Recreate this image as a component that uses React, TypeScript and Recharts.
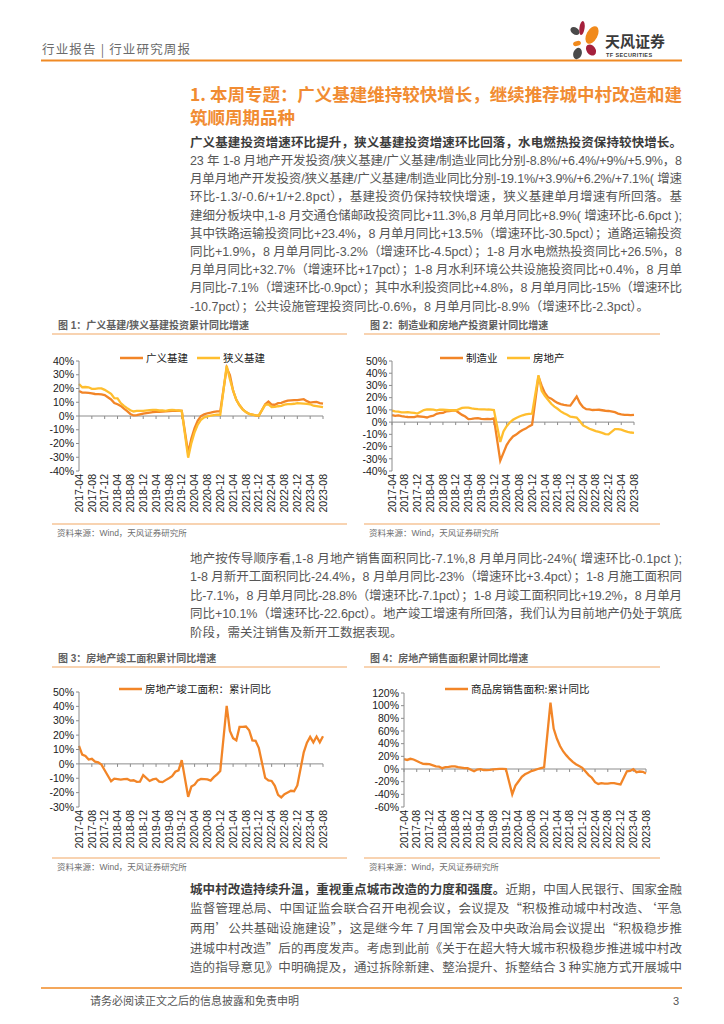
import React from "react"
import { Line, LineChart, ReferenceLine, XAxis, YAxis } from "recharts"

// months 2017-04 .. 2023-08 (January has no release, kept as null)
const MONTHS: string[] = []
for (let y = 2017; y <= 2023; y++) {
  for (let m = 1; m <= 12; m++) {
    if (y === 2017 && m < 4) continue
    if (y === 2023 && m > 8) break
    MONTHS.push(`${y}-${String(m).padStart(2, "0")}`)
  }
}
const LABEL_MONTHS = MONTHS.filter((_, i) => i % 4 === 0)

// 图1
const broadInfra = [
  18.2, 17.0, 17.0, 16.8, 16.4, 16.0, 15.9, 15.8, 15.2,
  null, 12.0, 9.5, 8.5, 7.3, 5.3, 3.5, 1.5, 0.4, 0.6, 1.2, 1.8,
  null, 2.5, 2.8, 3.0, 3.0, 3.2, 3.4, 3.5, 3.7, 3.8, 3.9, 3.8,
  null, -26.9, -16.4, -8.8, -3.3, -0.1, 1.2, 2.0, 2.4, 3.0, 3.3, 3.4,
  null, 35.0, 29.7, 18.4, 11.8, 7.8, 4.9, 2.9, 1.5, 1.0, 0.5, 0.2,
  null, 8.6, 10.5, 8.3, 8.2, 9.3, 9.6, 10.4, 11.2, 11.4, 11.6, 11.5,
  null, 12.2, 10.8, 9.8, 10.1, 10.2, 9.4, 9.0,
]
const narrowInfra = [
  23.3, 20.9, 21.1, 20.9, 19.8, 19.8, 20.1, 20.1, 19.0,
  null, 16.1, 13.0, 12.9, 9.4, 7.3, 5.7, 4.2, 3.3, 3.7, 3.7, 3.8,
  null, 4.3, 4.4, 4.4, 4.0, 4.1, 3.8, 4.2, 4.5, 4.2, 4.0, 3.8,
  null, -30.3, -19.7, -11.8, -6.3, -2.7, -1.0, -0.3, 0.2, 0.7, 1.0, 0.9,
  null, 36.6, 26.8, 18.4, 11.8, 7.8, 4.6, 2.9, 1.5, 1.0, 0.5, 0.4,
  null, 8.1, 8.5, 6.5, 6.7, 7.1, 7.4, 8.3, 8.6, 8.7, 8.9, 9.4,
  null, 9.0, 8.8, 8.5, 7.5, 7.2, 6.8, 6.4,
]

// 图2
const manufacturing = [
  5.8, 5.1, 5.5, 4.9, 4.5, 4.2, 4.1, 4.1, 4.8,
  null, 4.3, 3.8, 4.8, 5.2, 6.8, 7.3, 7.5, 8.7, 9.1, 9.5, 9.5,
  null, 5.9, 4.6, 2.5, 2.7, 3.0, 3.3, 2.6, 2.5, 2.6, 2.5, 3.1,
  null, -31.5, -25.2, -18.8, -14.8, -11.7, -10.2, -8.1, -6.5, -5.3, -3.5, -2.2,
  null, 37.3, 29.8, 23.8, 20.4, 19.2, 17.3, 15.7, 14.8, 14.2, 13.7, 13.5,
  null, 20.9, 15.6, 12.2, 10.6, 10.4, 9.9, 10.0, 10.1, 9.7, 9.3, 9.1,
  null, 8.1, 7.0, 6.4, 6.0, 6.0, 5.7, 5.9,
]
const realEstate = [
  9.3, 8.8, 8.5, 7.9, 7.9, 8.1, 7.8, 7.5, 7.0,
  null, 9.9, 10.4, 10.3, 10.2, 9.7, 10.2, 10.1, 9.9, 9.7, 9.7, 9.5,
  null, 11.6, 11.8, 11.9, 11.2, 10.9, 10.6, 10.5, 10.5, 10.3, 10.2, 9.9,
  null, -16.3, -7.7, -3.3, -0.3, 1.9, 3.4, 4.6, 5.6, 6.3, 6.8, 7.0,
  null, 38.3, 25.6, 21.6, 18.3, 15.0, 12.7, 10.9, 8.8, 7.2, 6.0, 4.4,
  null, 3.7, 0.7, -2.7, -4.0, -5.4, -6.4, -7.4, -8.0, -8.8, -9.8, -10.0,
  null, -5.7, -5.8, -6.2, -7.2, -7.9, -8.5, -8.8,
]

// 图3
const completedArea = [
  12.5, 6.5, 5.5, 3.0, 3.5, 1.5, 1.0, -0.5, -4.4,
  null, -12.1, -10.3, -10.6, -11.0, -10.6, -10.5, -11.6, -11.4, -12.5, -12.3, -7.8,
  null, -11.9, -10.8, -10.3, -12.4, -12.7, -11.3, -10.0, -8.6, -5.5, -4.5, 2.6,
  null, -22.9, -15.8, -14.5, -11.5, -10.5, -10.6, -10.8, -11.6, -9.2, -7.3, -4.9,
  null, 40.4, 22.9, 17.9, 16.4, 25.7, 25.7, 26.0, 23.4, 16.3, 16.0, 11.2,
  null, -9.8, -11.5, -11.9, -15.3, -21.5, -23.3, -21.1, -19.9, -18.7, -19.0, -15.0,
  null, 8.0, 14.7, 18.8, 15.0, 19.0, 15.0, 19.2,
]

// 图4
const salesArea = [
  15.7, 14.3, 16.1, 15.0, 12.7, 10.3, 8.2, 7.9, 7.7,
  null, 4.1, 3.6, 1.3, 2.9, 3.3, 4.2, 4.0, 2.9, 2.2, 1.4, 1.3,
  null, -3.6, -0.9, -0.3, -1.6, -1.8, -1.3, -0.6, -0.1, 0.1, 0.2, -0.1,
  null, -39.9, -26.3, -19.3, -12.3, -8.4, -5.8, -3.3, -1.8, 0.0, 1.3, 2.6,
  null, 104.9, 63.8, 48.1, 36.3, 27.7, 21.5, 15.9, 11.3, 7.6, 4.8, 1.9,
  null, -9.6, -13.8, -20.9, -23.6, -22.2, -23.1, -23.0, -22.2, -22.3, -23.3, -24.3,
  null, -3.6, -3.0, -0.4, -5.0, -4.0, -4.5, -7.1,
]

const fig1Ticks = [-40, -30, -20, -10, 0, 10, 20, 30, 40]
const fig2Ticks = [-40, -30, -20, -10, 0, 10, 20, 30, 40, 50]
const fig3Ticks = [-30, -20, -10, 0, 10, 20, 30, 40, 50]
const fig4Ticks = [-60, -40, -20, 0, 20, 40, 60, 80, 100, 120]

const para1 = [
  "23 年 1-8 月地产开发投资/狭义基建/广义基建/制造业同比分别-8.8%/+6.4%/+9%/+5.9%，8",
  "月单月地产开发投资/狭义基建/广义基建/制造业同比分别-19.1%/+3.9%/+6.2%/+7.1%( 增速",
  "环比-1.3/-0.6/+1/+2.8pct），基建投资仍保持较快增速，狭义基建单月增速有所回落。基",
  "建细分板块中,1-8 月交通仓储邮政投资同比+11.3%,8 月单月同比+8.9%( 增速环比-6.6pct );",
  "其中铁路运输投资同比+23.4%，8 月单月同比+13.5%（增速环比-30.5pct）；道路运输投资",
  "同比+1.9%，8 月单月同比-3.2%（增速环比-4.5pct）；1-8 月水电燃热投资同比+26.5%，8",
  "月单月同比+32.7%（增速环比+17pct）；1-8 月水利环境公共设施投资同比+0.4%，8 月单",
  "月同比-7.1%（增速环比-0.9pct）；其中水利投资同比+4.8%，8 月单月同比-15%（增速环比",
  "-10.7pct）；公共设施管理投资同比-0.6%，8 月单月同比-8.9%（增速环比-2.3pct）。",
]
const para2 = [
  "地产按传导顺序看,1-8 月地产销售面积同比-7.1%,8 月单月同比-24%( 增速环比-0.1pct );",
  "1-8 月新开工面积同比-24.4%，8 月单月同比-23%（增速环比+3.4pct）；1-8 月施工面积同",
  "比-7.1%，8 月单月同比-28.8%（增速环比-7.1pct）；1-8 月竣工面积同比+19.2%，8 月单月",
  "同比+10.1%（增速环比-22.6pct）。地产竣工增速有所回落，我们认为目前地产仍处于筑底",
  "阶段，需关注销售及新开工数据表现。",
]
const para3 = [
  "监督管理总局、中国证监会联合召开电视会议，会议提及“积极推动城中村改造、‘平急",
  "两用’公共基础设施建设”，这是继今年 7 月国常会及中央政治局会议提出“积极稳步推",
  "进城中村改造”后的再度发声。考虑到此前《关于在超大特大城市积极稳步推进城中村改",
  "造的指导意见》中明确提及，通过拆除新建、整治提升、拆整结合 3 种实施方式开展城中",
]

const ORANGE = "#F28527"
const YELLOW = "#FFBE2E"
const AXIS = "#8C8C8C"
const PANEL_LINE = "#F6C597"
const LATIN = "'Liberation Sans', Arial, 'Noto Sans CJK SC', sans-serif"
const CJK = "'Noto Sans CJK SC', sans-serif"

type Series = { key: string; color: string; values: (number | null)[] }
type Box = { left: number; top: number; width: number; height: number; yWidth: number; mr: number; mt: number; xh: number }

const MonthTick = ({ x, y, payload }: any) => (
  <g transform={`translate(${x},${y})`}>
    <text
      transform="rotate(-90)"
      x={0}
      y={0}
      dy="0.35em"
      textAnchor="end"
      fontSize={10.5}
      fontFamily={LATIN}
      fill="#1a1a1a"
    >
      {payload.value}
    </text>
  </g>
)

const PanelChart = ({
  box,
  domain,
  ticks,
  tickLen,
  series,
}: {
  box: Box
  domain: [number, number]
  ticks: number[]
  tickLen: number
  series: Series[]
}) => {
  const data = MONTHS.map((month, i) => {
    const row: Record<string, string | number | null> = { month }
    for (const s of series) row[s.key] = s.values[i]
    return row
  })
  return (
    <div style={{ position: "absolute", left: box.left, top: box.top }}>
      <LineChart
        width={box.width}
        height={box.height}
        data={data}
        margin={{ top: box.mt, right: box.mr, bottom: 0, left: 0 }}
      >
        <XAxis
          dataKey="month"
          interval={3}
          minTickGap={0}
          padding={{ left: 0, right: 0 }}
          tick={(p: any) => <MonthTick {...p} />}
          tickLine={false}
          axisLine={false}
          tickSize={0}
          tickMargin={3}
          height={box.xh}
        />
        <YAxis
          domain={domain}
          ticks={ticks}
          interval={0}
          allowDataOverflow
          width={box.yWidth}
          tickFormatter={(v: number) => `${v}%`}
          axisLine={{ stroke: AXIS }}
          tickLine={{ stroke: AXIS }}
          tickSize={3}
          tickMargin={2}
          tick={{ fontSize: 10.5, fill: "#1a1a1a", fontFamily: LATIN }}
        />
        <ReferenceLine y={0} stroke={AXIS} strokeWidth={1} />
        {LABEL_MONTHS.map((m) => (
          <ReferenceLine
            key={m}
            segment={[
              { x: m, y: 0 },
              { x: m, y: -tickLen },
            ]}
            stroke={AXIS}
          />
        ))}
        {series.map((s) => (
          <Line
            key={s.key}
            type="linear"
            dataKey={s.key}
            stroke={s.color}
            strokeWidth={2.3}
            dot={false}
            connectNulls
            isAnimationActive={false}
          />
        ))}
      </LineChart>
    </div>
  )
}

const LegendItem = ({ x, y, color, label }: { x: number; y: number; color: string; label: string }) => (
  <g>
    <line x1={x} x2={x + 23} y1={y} y2={y} stroke={color} strokeWidth={2.5} />
    <text x={x + 26} y={y + 3.6} fontSize={10.5} fontFamily={CJK} fill="#1a1a1a">
      {label}
    </text>
  </g>
)

const BodyLines = ({
  lines,
  top,
  step,
  justifyLast,
  font = LATIN,
}: {
  lines: string[]
  top: number
  step: number
  justifyLast?: boolean
  font?: string
}) => (
  <g>
    {lines.map((t, i) => {
      const justify = justifyLast || i < lines.length - 1
      return (
        <text
          key={i}
          x={190}
          y={top + i * step + 4.5}
          fontSize={12.5}
          fontFamily={font}
          fill="#575757"
          {...(justify ? { textLength: 492, lengthAdjust: "spacing" } : {})}
        >
          {t}
        </text>
      )
    })}
  </g>
)

const PanelFrame = ({ x1, x2, top, bottom, title }: { x1: number; x2: number; top: number; bottom: number; title: string }) => (
  <g>
    <text x={x1 + 6} y={top - 5} fontSize={10} fontWeight={700} fontFamily={LATIN} fill="#606060">
      {title}
    </text>
    <line x1={x1} x2={x2} y1={top} y2={top} stroke={PANEL_LINE} strokeWidth={1.3} />
    <line x1={x1} x2={x2} y1={bottom} y2={bottom} stroke={PANEL_LINE} strokeWidth={1.3} />
    <text x={x1 + 5} y={bottom + 12} fontSize={8.5} fontFamily={LATIN} fill="#6e6e6e">
      资料来源：Wind，天风证券研究所
    </text>
  </g>
)

export default function App() {
  return (
    <div style={{ position: "absolute", left: 0, top: 0, width: 724, height: 1024, background: "#fff", overflow: "hidden" }}>
      <PanelChart
        box={{ left: 39, top: 345, width: 301, height: 185, yWidth: 40, mr: 17, mt: 16, xh: 59 }}
        domain={[-40, 40]}
        ticks={fig1Ticks}
        tickLen={2.2}
        series={[
          { key: "broad", color: ORANGE, values: broadInfra },
          { key: "narrow", color: YELLOW, values: narrowInfra },
        ]}
      />
      <PanelChart
        box={{ left: 352, top: 345, width: 300, height: 185, yWidth: 40, mr: 18, mt: 16, xh: 59 }}
        domain={[-40, 50]}
        ticks={fig2Ticks}
        tickLen={2.4}
        series={[
          { key: "mfg", color: ORANGE, values: manufacturing },
          { key: "re", color: YELLOW, values: realEstate },
        ]}
      />
      <PanelChart
        box={{ left: 39, top: 676, width: 301, height: 180, yWidth: 40, mr: 17, mt: 16, xh: 49 }}
        domain={[-30, 50]}
        ticks={fig3Ticks}
        tickLen={2.1}
        series={[{ key: "done", color: ORANGE, values: completedArea }]}
      />
      <PanelChart
        box={{ left: 352, top: 677, width: 310, height: 179, yWidth: 52, mr: 16, mt: 16, xh: 49 }}
        domain={[-60, 120]}
        ticks={fig4Ticks}
        tickLen={4.7}
        series={[{ key: "sales", color: ORANGE, values: salesArea }]}
      />

      <svg width={724} height={1024} style={{ position: "absolute", left: 0, top: 0, pointerEvents: "none" }}>
        {/* header */}
        <text x={42} y={54} fontSize={12.5} fontFamily={CJK} fill="#6b6b6b" textLength={148} lengthAdjust="spacing">
          行业报告 | 行业研究周报
        </text>
        <line x1={41} x2={682} y1={60.5} y2={60.5} stroke="#F08A24" strokeWidth={2} />
        <g>
          <ellipse cx={575} cy={31} rx={5} ry={3.5} transform="rotate(35 575 31)" fill="#4a4a4a" />
          <ellipse cx={582} cy={28} rx={2.6} ry={7} transform="rotate(8 582 28)" fill="#A5203C" />
          <ellipse cx={592} cy={35} rx={5.5} ry={9.5} transform="rotate(28 592 35)" fill="#F18A1C" />
          <ellipse cx={577} cy={43.5} rx={4} ry={2.4} transform="rotate(-15 577 43.5)" fill="#F18A1C" />
          <ellipse cx={591} cy={50} rx={4.5} ry={6} transform="rotate(-35 591 50)" fill="#A5203C" />
          <ellipse cx={577.5} cy={53.5} rx={4.2} ry={5.8} transform="rotate(20 577.5 53.5)" fill="#4a4a4a" />
        </g>
        <text x={605} y={47} fontSize={15} fontWeight={700} fontFamily={CJK} fill="#3a3a3a">
          天风证券
        </text>
        <text x={606} y={57} fontSize={5.5} fontWeight={700} fontFamily={LATIN} fill="#3a3a3a" letterSpacing={0.4}>
          TF SECURITIES
        </text>

        {/* section title */}
        <text x={190} y={101} fontSize={17.5} fontWeight={700} fontFamily={CJK} fill="#F18C32" textLength={492} lengthAdjust="spacing">
          1. 本周专题：广义基建维持较快增长，继续推荐城中村改造和建
        </text>
        <text x={190} y={124} fontSize={17.5} fontWeight={700} fontFamily={CJK} fill="#F18C32">
          筑顺周期品种
        </text>

        {/* paragraph 1 */}
        <text x={190} y={146.5} fontSize={12.5} fontWeight={700} fontFamily={CJK} fill="#3c3c3c" textLength={492} lengthAdjust="spacing">
          广义基建投资增速环比提升，狭义基建投资增速环比回落，水电燃热投资保持较快增长。
        </text>
        <BodyLines lines={para1} top={160.5} step={18.2} />

        <PanelFrame x1={52} x2={347} top={334} bottom={524} title="图 1：广义基建/狭义基建投资累计同比增速" />
        <PanelFrame x1={364} x2={660} top={334} bottom={524} title="图 2：制造业和房地产投资累计同比增速" />
        <LegendItem x={120} y={358} color={ORANGE} label="广义基建" />
        <LegendItem x={197} y={358} color={YELLOW} label="狭义基建" />
        <LegendItem x={440} y={358} color={ORANGE} label="制造业" />
        <LegendItem x={507} y={358} color={YELLOW} label="房地产" />

        {/* paragraph 2 */}
        <BodyLines lines={para2} top={558} step={18.5} />

        <PanelFrame x1={52} x2={347} top={667} bottom={858} title="图 3：房地产竣工面积累计同比增速" />
        <PanelFrame x1={364} x2={660} top={667} bottom={858} title="图 4：房地产销售面积累计同比增速" />
        <LegendItem x={119} y={689} color={ORANGE} label="房地产竣工面积：累计同比" />
        <LegendItem x={445} y={689} color={ORANGE} label="商品房销售面积:累计同比" />

        {/* paragraph 3 */}
        <text x={190} y={893.5} fontSize={12.5} fontFamily={CJK} fill="#575757" textLength={492} lengthAdjust="spacing">
          <tspan fontWeight={700} fill="#3c3c3c">
            城中村改造持续升温，重视重点城市改造的力度和强度。
          </tspan>
          <tspan>近期，中国人民银行、国家金融</tspan>
        </text>
        <BodyLines lines={para3} top={908.7} step={19.7} justifyLast font={CJK} />

        {/* footer */}
        <line x1={41} x2={682} y1={988} y2={988} stroke="#F08A24" strokeWidth={1.5} />
        <text x={90} y={1005} fontSize={11} fontFamily={CJK} fill="#555">
          请务必阅读正文之后的信息披露和免责申明
        </text>
        <text x={673} y={1005} fontSize={11} fontFamily={LATIN} fill="#555">
          3
        </text>
      </svg>
    </div>
  )
}
